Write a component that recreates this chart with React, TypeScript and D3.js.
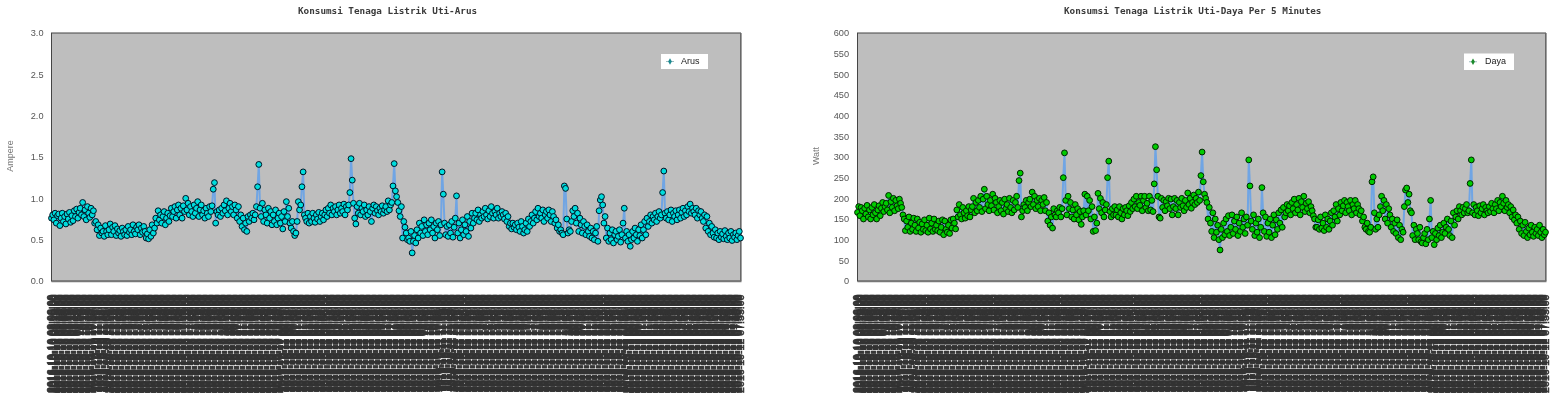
import React from "react";
import * as d3 from "d3";

const arusValues = [
.76,.80,.74,.82,.70,.79,.81,.67,.76,.82,.72,.78,.69,.81,.75,.83,.71,.79,.73,.85,.78,.87,.76,.83,
.88,.80,.95,.78,.86,.74,.90,.82,.77,.88,.80,.85,.70,.72,.62,.68,.55,.64,.58,.60,.54,.67,.60,.56,
.62,.69,.56,.65,.60,.67,.55,.63,.58,.61,.54,.64,.60,.56,.62,.55,.66,.59,.62,.56,.68,.60,.57,.65,
.62,.68,.56,.64,.59,.66,.60,.52,.57,.51,.62,.54,.68,.58,.64,.76,.70,.85,.74,.80,.70,.78,.84,.68,
.76,.82,.72,.79,.88,.78,.84,.90,.76,.86,.92,.80,.88,.76,.91,.84,1.00,.86,.94,.80,.90,.84,.78,.92,
.82,.88,.96,.78,.86,.92,.80,.85,.76,.88,.82,.78,.90,.84,.91,1.11,1.19,.70,.84,.80,.86,.78,.88,.82,
.92,.85,.97,.80,.88,.94,.84,.90,.80,.92,.86,.76,.90,.72,.80,.66,.76,.62,.70,.60,.78,.72,.80,.76,
.82,.74,.80,.90,1.14,1.41,.88,.78,.94,.72,.86,.80,.70,.88,.76,.84,.68,.80,.72,.86,.68,.76,.82,.70,
.78,.63,.84,.72,.96,.78,.88,.70,.64,.72,.60,.55,.58,.72,.96,.86,.92,1.14,1.32,.80,.76,.72,.82,.70,
.78,.72,.82,.76,.71,.80,.75,.83,.72,.78,.82,.74,.80,.86,.78,.88,.82,.92,.80,.88,.84,.90,.80,.86,
.92,.82,.88,.84,.93,.80,.90,.86,.92,1.07,1.48,1.22,.94,.76,.69,.90,.82,.94,.80,.88,.84,.92,.78,.86,
.80,.90,.84,.72,.88,.92,.82,.90,.85,.80,.88,.84,.91,.82,.86,.90,.84,.97,.86,.92,.95,1.15,1.42,1.09,
1.02,.95,.85,.78,.90,.52,.72,.65,.58,.50,.52,.48,.60,.34,.48,.55,.46,.62,.52,.70,.58,.66,.55,.74,
.60,.68,.56,.70,.62,.74,.58,.66,.52,.70,.62,.72,.55,.68,1.32,1.05,.70,.56,.66,.54,.68,.58,.72,.53,
.65,.76,1.03,.58,.70,.52,.62,.74,.56,.68,.60,.78,.54,.72,.64,.82,.70,.76,.82,.74,.86,.72,.80,.76,
.84,.78,.88,.80,.75,.85,.78,.90,.82,.76,.84,.80,.88,.76,.82,.78,.84,.80,.75,.82,.72,.78,.66,.70,
.63,.70,.65,.68,.62,.70,.65,.60,.72,.66,.58,.62,.70,.60,.75,.66,.72,.80,.70,.76,.84,.74,.88,.78,
.82,.76,.86,.72,.80,.84,.76,.86,.80,.72,.84,.78,.70,.74,.64,.68,.60,.62,.58,.56,1.15,1.12,.75,.58,
.62,.60,.72,.85,.78,.88,.70,.82,.60,.76,.68,.58,.72,.66,.56,.68,.60,.54,.64,.52,.60,.50,.58,.66,
.48,.85,.98,1.02,.92,.70,.78,.52,.64,.48,.58,.50,.62,.46,.56,.60,.50,.54,.62,.47,.56,.70,.88,.52,
.60,.48,.56,.42,.50,.60,.52,.64,.56,.48,.62,.55,.68,.52,.62,.72,.56,.76,.66,.72,.80,.70,.78,.74,
.82,.72,.78,.84,.76,.80,1.07,1.33,.82,.76,.84,.74,.80,.86,.72,.82,.78,.85,.74,.80,.86,.76,.83,.88,
.78,.85,.80,.90,.84,.93,.82,.88,.84,.80,.88,.76,.85,.80,.84,.76,.72,.80,.64,.78,.60,.70,.56,.66,
.58,.53,.62,.52,.58,.50,.60,.53,.57,.51,.61,.54,.50,.58,.52,.60,.49,.56,.53,.58,.50,.55,.60,.52,
];

const dayaValues = [
166,180,158,178,170,150,176,162,183,155,172,150,178,160,185,165,150,172,182,158,176,190,168,180,
188,172,207,165,192,178,200,170,195,182,175,198,188,178,160,150,122,145,130,155,120,140,125,152,
135,120,150,128,142,118,138,125,148,122,135,118,152,126,140,120,150,125,135,122,145,118,130,148,
112,145,125,118,135,115,148,128,150,140,126,172,155,185,160,150,178,165,152,170,158,180,155,172,
180,200,165,190,170,195,178,205,168,198,222,175,205,185,170,195,182,210,172,200,190,165,180,195,
170,190,162,198,175,185,168,200,178,165,195,172,190,205,178,243,261,155,170,185,178,195,170,190,
198,180,215,185,205,175,195,180,200,170,195,185,202,170,190,145,165,135,155,128,175,160,155,170,
165,178,155,175,250,310,195,160,205,175,190,155,172,150,185,160,175,148,168,137,155,170,210,160,
205,170,195,150,180,120,155,122,140,212,175,200,165,190,155,172,185,250,290,168,155,175,160,180,
160,172,155,180,165,150,175,160,178,170,158,182,168,190,175,198,180,205,175,190,183,205,170,195,
205,178,188,170,205,172,195,168,235,325,269,205,155,152,200,178,195,170,192,182,200,175,198,160,
180,200,175,195,160,190,178,200,182,170,195,178,213,185,200,176,190,208,185,200,190,215,195,255,
312,240,210,200,190,150,178,140,120,165,105,150,118,135,100,75,125,105,140,112,150,120,158,110,
130,160,115,145,125,155,110,140,120,165,130,150,115,155,135,293,230,145,125,160,110,140,118,150,
105,130,226,165,120,155,108,140,118,150,105,135,160,112,148,125,165,140,172,130,178,155,165,185,
170,182,160,190,175,198,165,185,172,200,160,192,178,205,168,188,175,192,165,180,170,158,150,130,
130,148,125,155,128,140,122,160,130,150,125,145,165,135,170,155,185,145,175,160,190,170,182,195,
165,190,180,170,195,160,185,175,195,165,185,175,160,170,145,155,130,125,140,120,118,130,240,252,
165,125,150,130,160,180,205,170,195,150,185,140,175,160,130,150,120,140,115,148,105,135,100,125,
118,180,220,225,190,210,170,165,110,135,100,125,115,100,130,95,92,105,115,90,125,100,150,195,
105,120,88,115,100,128,110,135,105,118,140,115,130,150,125,110,145,105,165,135,155,170,150,180,
170,160,178,165,175,185,165,170,236,293,165,185,160,178,170,158,182,165,175,185,160,178,170,165,
180,168,188,175,165,185,175,195,170,190,180,205,188,170,195,178,185,165,180,155,172,148,160,140,
155,125,145,115,135,110,142,120,105,128,112,135,118,108,130,115,125,110,135,118,105,125,112,118,
];

const arusTicks = [0, 0.5, 1, 1.5, 2, 2.5, 3];
const dayaTicks = [0, 50, 100, 150, 200, 250, 300, 350, 400, 450, 500, 550, 600];
const startTime = new Date(2016, 9, 10, 8, 0, 0);
const fmt = d3.timeFormat("%Y-%m-%d %H:%M:%S");
const timeLabels = arusValues.map((_, i) => fmt(d3.timeMinute.offset(startTime, i * 5)));

const H = 405;
const top = 33;
const bottom = 281;

type PanelProps = {
  title: string; titleX: number; yLabel: string; yLabelX: number;
  values: number[]; ticks: number[]; max: number; x0: number; x1: number;
  tickFmt: (v: number) => string; tickX: number; fill: string; stroke: string; markColor: string; legendName: string;
  legend: { x: number; y: number; w: number; h: number; mx: number; tx: number };
};

function Panel(p: PanelProps) {
  const x = d3.scalePoint<number>().domain(p.values.map((_, i) => i)).range([p.x0, p.x1]);
  const y = d3.scaleLinear().domain([0, p.max]).range([bottom, top]);
  const line = d3.line<number>().x((_, i) => x(i)!).y((d) => y(d));
  return (
    <g>
      <text x={p.titleX} y={14} fontFamily="'DejaVu Sans Mono'" fontWeight="bold" fontSize={9.3} fill="#3a3a3a">{p.title}</text>
      <rect x={p.x0} y={top} width={p.x1 - p.x0} height={bottom - top} fill="#bebebe" stroke="#444" strokeWidth={1} />
      <line x1={p.x0} x2={p.x1 + 1} y1={bottom + 0.5} y2={bottom + 0.5} stroke="#777" strokeWidth={1.4} />
      <line x1={p.x1 + 0.5} x2={p.x1 + 0.5} y1={top} y2={bottom} stroke="#777" strokeWidth={1.4} />
      {p.ticks.map((t) => (
        <text key={t} x={p.tickX} y={y(t) + 3.2} textAnchor="end" fontFamily="'Liberation Sans'" fontSize={9.2} fill="#555">{p.tickFmt(t)}</text>
      ))}
      <text transform={`translate(${p.yLabelX},156) rotate(-90)`} textAnchor="middle" fontFamily="'Liberation Sans'" fontSize={9} fill="#777">{p.yLabel}</text>
      {p.values.map((_, i) => (
        <text key={i} transform={`translate(${x(i)! + 3},294.5) rotate(-90)`} textAnchor="end" fontFamily="'Liberation Sans'" fontSize={10.6} fill="#333" stroke="#333" strokeWidth={0.5}>{timeLabels[i]}</text>
      ))}
      <path d={line(p.values)!} fill="none" stroke="#6fa5e4" strokeWidth={2} />
      {p.values.map((v, i) => (
        <circle key={i} cx={x(i)} cy={y(v)} r={2.9} fill={p.fill} stroke={p.stroke} strokeWidth={1} />
      ))}
      <rect x={p.legend.x} y={p.legend.y} width={p.legend.w} height={p.legend.h} fill="#fff" />
      <line x1={p.legend.mx - 4} x2={p.legend.mx + 4} y1={p.legend.y + p.legend.h / 2} y2={p.legend.y + p.legend.h / 2} stroke="#9dbcc0" strokeWidth={1} />
      <path d={d3.symbol(d3.symbolDiamond, 12)()!} transform={`translate(${p.legend.mx},${p.legend.y + p.legend.h / 2})`} fill={p.markColor} />
      <text x={p.legend.tx} y={p.legend.y + p.legend.h / 2 + 2.4} fontFamily="'Liberation Sans'" fontSize={9} fill="#222">{p.legendName}</text>
    </g>
  );
}

export default function App() {
  return (
    <svg width={1557} height={H} style={{ position: "absolute", left: 0, top: 0 }}>
      <defs>
        <filter id="soft" x="0" y="0" width="100%" height="100%">
          <feGaussianBlur stdDeviation="0.4" />
        </filter>
      </defs>
      <g filter="url(#soft)">
        <Panel title="Konsumsi Tenaga Listrik Uti-Arus" titleX={298} yLabel="Ampere" yLabelX={13}
          values={arusValues} ticks={arusTicks} max={3} x0={51.5} x1={740.5} tickFmt={d3.format(".1f")} tickX={43.5}
          fill="#00dcdc" stroke="#012" markColor="#1d8a90" legendName="Arus"
          legend={{ x: 661, y: 54, w: 47, h: 15, mx: 670, tx: 681 }} />
        <Panel title="Konsumsi Tenaga Listrik Uti-Daya Per 5 Minutes" titleX={1064} yLabel="Watt" yLabelX={819}
          values={dayaValues} ticks={dayaTicks} max={600} x0={857.5} x1={1545.5} tickFmt={d3.format("d")} tickX={849}
          fill="#00cc00" stroke="#020" markColor="#1a8a2a" legendName="Daya"
          legend={{ x: 1464, y: 53.5, w: 50, h: 16.5, mx: 1473, tx: 1485 }} />
      </g>
    </svg>
  );
}
